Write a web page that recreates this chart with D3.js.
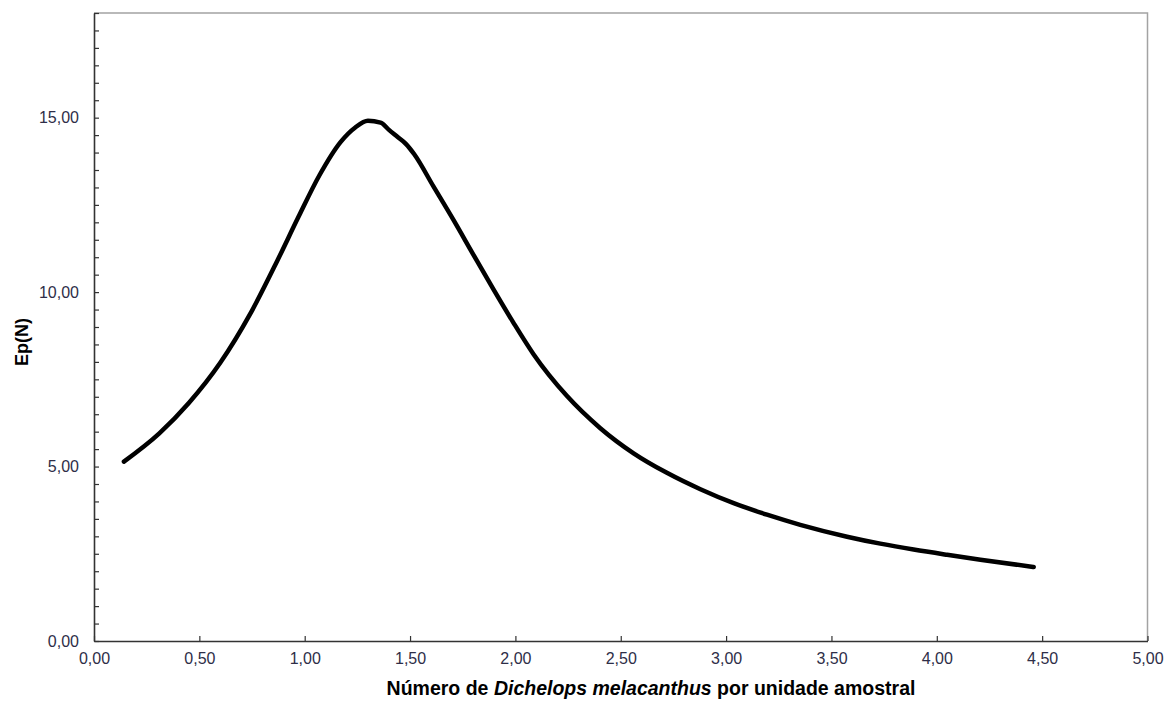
<!DOCTYPE html>
<html><head><meta charset="utf-8">
<script src="https://cdn.jsdelivr.net/npm/d3@7"></script>
<style>body{margin:0;background:#fff}svg{display:block}</style>
</head><body>
<svg id="c" width="1166" height="706"></svg>
<script>
const xValues = [0.142,0.31,0.45,0.60,0.74,0.87,0.97,1.07,1.17,1.24,1.30,1.36,1.40,1.44,1.48,1.52,1.611,1.706,1.801,1.896,1.991,2.086,2.245,2.403,2.561,2.719,2.878,3.036,3.194,3.352,3.574,3.732,3.890,4.049,4.207,4.460];
const epValues = [5.14,5.95,6.82,7.98,9.36,10.90,12.15,13.35,14.30,14.72,14.91,14.86,14.65,14.45,14.25,13.95,13.03,12.07,11.07,10.08,9.12,8.22,7.02,6.10,5.38,4.82,4.35,3.95,3.62,3.33,2.99,2.79,2.62,2.47,2.33,2.12];
const xTicks = [0,0.5,1,1.5,2,2.5,3,3.5,4,4.5,5];
const yLabelTicks = [0,5,10,15];
const yMinorTicks = d3.range(0, 18.01, 0.5);

const fmt = v => v.toFixed(2).replace('.', ',');
const svg = d3.select('#c');
const L = 94, R = 1147.5, T = 13, B = 641;
const x = d3.scaleLinear().domain([0,5]).range([L,R]);
const y = d3.scaleLinear().domain([0,18]).range([B,T]);
const font = 'Arial, "Liberation Sans", sans-serif';
const tickColor = '#2e2e48';

// frame top/right
svg.append('path').attr('d', `M${L},${T}H${R}V${B}`).attr('fill','none').attr('stroke','#a3a3a3').attr('stroke-width',1.5);

// x axis
const xAxis = d3.axisBottom(x).tickValues(xTicks).tickSize(-5).tickFormat(fmt).tickSizeOuter(0);
const gx = svg.append('g').attr('transform',`translate(0,${B})`).call(xAxis);
gx.select('.domain').attr('stroke','#333').attr('stroke-width',1.6);
gx.selectAll('.tick line').attr('stroke','#333').attr('stroke-width',1.2);
gx.selectAll('.tick text').attr('y',12).attr('font-family',font).attr('font-size',16).attr('fill',tickColor);

// y axis (minor ticks)
const yAxis = d3.axisLeft(y).tickValues(yMinorTicks).tickSize(-5).tickFormat('').tickSizeOuter(0);
const gy = svg.append('g').attr('transform',`translate(${L},0)`).call(yAxis);
gy.select('.domain').attr('stroke','#333').attr('stroke-width',1.6);
gy.selectAll('.tick line').attr('stroke','#333').attr('stroke-width',1.2);

// y labels
svg.append('g').selectAll('text').data(yLabelTicks).join('text')
  .attr('x', 79).attr('y', d => y(d)).attr('dy','0.36em')
  .attr('text-anchor','end').attr('font-family',font).attr('font-size',16).attr('fill',tickColor)
  .text(fmt);

// curve
const data = xValues.map((v,i)=>[v, epValues[i]]);
svg.append('path').datum(data)
  .attr('d', d3.line().x(d=>x(d[0])).y(d=>y(d[1])).curve(d3.curveMonotoneX))
  .attr('fill','none').attr('stroke','#000').attr('stroke-width',4.5)
  .attr('stroke-linecap','round').attr('stroke-linejoin','round');

// axis titles
const xt = svg.append('text').attr('x', 651).attr('y', 695).attr('text-anchor','middle')
  .attr('font-family',font).attr('font-size',19.5).attr('font-weight','bold').attr('fill','#000');
xt.append('tspan').text('Número de ');
xt.append('tspan').attr('font-style','italic').text('Dichelops melacanthus');
xt.append('tspan').text(' por unidade amostral');

svg.append('text').attr('transform','translate(28,342) rotate(-90)').attr('text-anchor','middle')
  .attr('font-family',font).attr('font-size',18).attr('font-weight','bold').attr('fill','#000')
  .text('Ep(N)');
</script>
</body></html>
